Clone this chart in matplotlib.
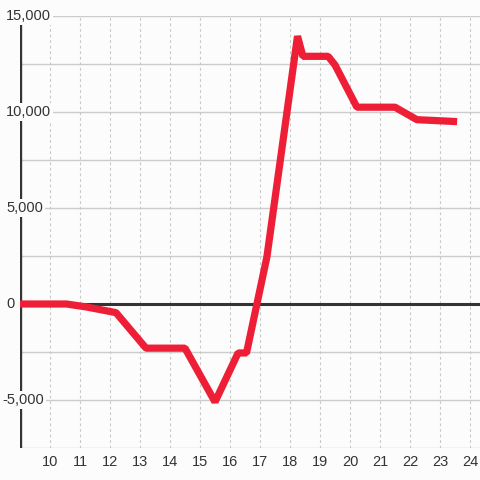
import matplotlib
matplotlib.use("Agg")
import matplotlib.pyplot as plt

plt.rcParams['font.family'] = ['Liberation Sans', 'DejaVu Sans']

# data
hours = [9, 10.55, 11.2, 12.2, 13.2, 14.5, 15.5, 16.27, 16.55, 17.23,
         18.25, 18.43, 19.27, 19.5, 20.23, 21.5, 22.23, 23.57]
values = [0, 0, -150, -450, -2300, -2300, -5100, -2550, -2550, 2450,
          13950, 12900, 12900, 12450, 10250, 10250, 9600, 9500]
x_ticks = list(range(10, 25))
y_ticks = [15000, 10000, 5000, 0, -5000]
y_grid = [15000, 12500, 10000, 7500, 5000, 2500, -2500, -5000, -7500]

bg = '#fbfcfb'
red = '#ee1e36'
dark = '#333333'

fig = plt.figure(figsize=(4.8, 4.8), dpi=100, facecolor=bg)
ax = fig.add_axes([20 / 480, 32 / 480, 460 / 480, 432 / 480])
ax.set_facecolor(bg)
ax.set_xlim(9, 9 + 460 / 30)
ax.set_ylim(-7500, 15000)

for s in ax.spines.values():
    s.set_visible(False)

# grid
for v in y_grid:
    ax.axhline(v, color='#cccccc', lw=1, zorder=1)
for v in x_ticks:
    ax.axvline(v, color='#c8c8c8', lw=0.8, ls=(0, (2.5, 2.5)), zorder=1)

ax.axhline(0, color=dark, lw=2.2, zorder=2)
ax.axvline(9, color=dark, lw=2.4, zorder=2)

ax.plot(hours, values, color=red, lw=5.2, solid_joinstyle='bevel',
        solid_capstyle='butt', zorder=3)

ax.set_yticks([])
ax.set_xticks(x_ticks)
ax.set_xticklabels([str(t) for t in x_ticks])
ax.tick_params(axis='x', length=0, pad=5, labelsize=10.5, labelcolor=dark)

ytr = ax.get_yaxis_transform()
for v in y_ticks:
    lab = f"{v:,}"
    x0 = (6 - 20) / 460 if v >= 0 else (2 - 20) / 460
    ax.text(x0, v, lab, transform=ytr, ha='left', va='center',
            fontsize=10.5, color=dark, clip_on=False, zorder=5,
            bbox=dict(boxstyle='square,pad=0.15', fc=bg, ec='none'))

fig.savefig("out.png", dpi=100, facecolor=bg)
